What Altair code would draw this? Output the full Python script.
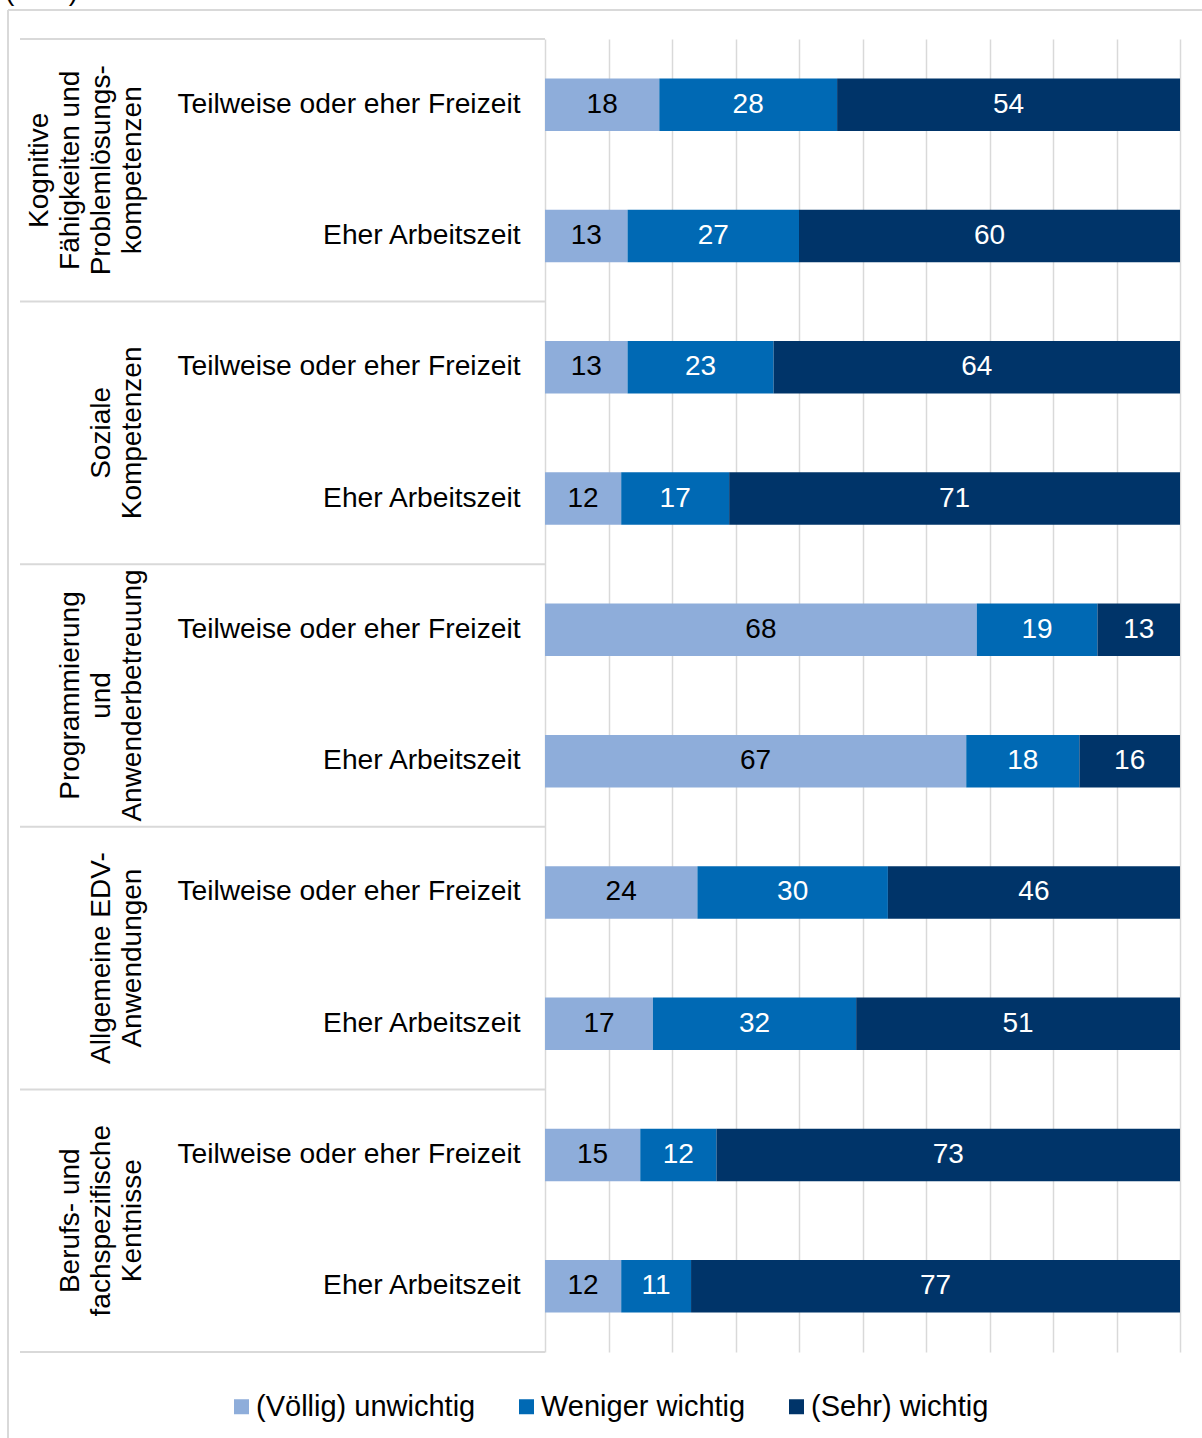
import altair as alt
import pandas as pd

# ---------------- data ----------------
group_lines = [
    ["Kognitive", "Fähigkeiten und", "Problemlösungs-", "kompetenzen"],
    ["Soziale", "Kompetenzen"],
    ["Programmierung", "und", "Anwenderbetreuung"],
    ["Allgemeine EDV-", "Anwendungen"],
    ["Berufs- und", "fachspezifische", "Kentnisse"],
]
periods = ["Teilweise oder eher Freizeit", "Eher Arbeitszeit"]
levels = ["(Völlig) unwichtig", "Weniger wichtig", "(Sehr) wichtig"]
colors = ["#8EADDA", "#0069B4", "#003469"]

unwichtig = [18, 13, 13, 12, 68, 67, 24, 17, 15, 12]
weniger = [28, 27, 23, 17, 19, 18, 30, 32, 12, 11]
wichtig = [54, 60, 64, 71, 13, 16, 46, 51, 73, 77]

x_ticks = list(range(0, 101, 10))
unit_label = "(in %)"

FONT = "Liberation Sans"
LINE_H = 31

rows = []
row_ids = []
for gi in range(len(group_lines)):
    for pi, p in enumerate(periods):
        ri = gi * 2 + pi
        rid = f"{gi}|{p}"
        row_ids.append(rid)
        for li, (lvl, vals) in enumerate(zip(levels, [unwichtig, weniger, wichtig])):
            rows.append({"row": rid, "level": lvl, "lvl": li, "value": vals[ri]})
df = pd.DataFrame(rows)

gdf = pd.DataFrame({"g": list(range(len(group_lines))),
                    "label": ["\n".join(l) for l in group_lines]})
bdf = pd.DataFrame({"b": list(range(len(group_lines) + 1))})
dummy = pd.DataFrame({"k": [0], "t": [unit_label]})

# ---------------- main (bars) ----------------
base = (
    alt.Chart(df)
    .transform_joinaggregate(total="sum(value)", groupby=["row"])
    .transform_window(cum="sum(value)", groupby=["row"],
                      sort=[alt.SortField("lvl", order="ascending")],
                      frame=[None, 0])
    .transform_calculate(
        start="(datum.cum - datum.value) / datum.total * 100",
        end="datum.cum / datum.total * 100",
        mid="(datum.cum - datum.value / 2) / datum.total * 100",
    )
)

y_enc = alt.Y(
    "row:N",
    scale=alt.Scale(domain=row_ids, paddingInner=0.6, paddingOuter=0.3),
    axis=alt.Axis(
        title=None, ticks=False, domain=False, grid=False,
        labelExpr="split(datum.value, '|')[1]",
        labelFontSize=28.2, labelFont=FONT, labelColor="#000000",
        labelPadding=25, labelLimit=800,
    ),
)

x_scale = alt.Scale(domain=[0, 100], nice=False)

bars = base.mark_bar().encode(
    x=alt.X("start:Q", scale=x_scale,
            axis=alt.Axis(values=x_ticks, labels=False, ticks=False, domain=False,
                          grid=True, gridColor="#D9D9D9", gridWidth=1.5, title=None)),
    x2="end:Q",
    y=y_enc,
    color=alt.Color(
        "level:N",
        scale=alt.Scale(domain=levels, range=colors),
        legend=alt.Legend(
            orient="none", legendX=-318, legendY=1353, direction="horizontal",
            title=None, symbolType="square", symbolSize=225, symbolStrokeWidth=0,
            labelFontSize=29, labelFont=FONT, labelColor="#000000", labelLimit=600,
            columnPadding=36, labelOffset=0, padding=0,
        ),
    ),
)

values = base.mark_text(fontSize=28, font=FONT).encode(
    x=alt.X("mid:Q", scale=x_scale),
    y=y_enc,
    text=alt.Text("value:Q"),
    color=alt.condition("datum.lvl == 0", alt.value("#000000"), alt.value("#FFFFFF")),
)

main = alt.layer(bars, values)

# ---------------- side (group separators & labels) ----------------
gy_scale = alt.Scale(domain=[0, len(group_lines)], reverse=True, nice=False, zero=False)

seps = alt.Chart(bdf).mark_rule(color="#D9D9D9", strokeWidth=2).encode(
    y=alt.Y("b:Q", scale=gy_scale, axis=None),
    x=alt.value(-525),
    x2=alt.value(0),
)

# multi-line rotated labels: last line sits next to the category labels
glabels = (
    alt.Chart(gdf)
    .transform_calculate(
        c="datum.g + 0.5",
        xo=f"-398 - (length(split(datum.label, '\\n')) - 1) * {LINE_H}",
    )
    .mark_text(angle=270, align="center", baseline="bottom", lineBreak="\n",
               fontSize=28, font=FONT, lineHeight=LINE_H, color="#000000")
    .encode(
        y=alt.Y("c:Q", scale=gy_scale, axis=None),
        x=alt.X("xo:Q", scale=None),
        text="label:N",
    )
)

top_border = alt.Chart(dummy).mark_rule(color="#D9D9D9", strokeWidth=2).encode(
    x=alt.value(-537), x2=alt.value(660), y=alt.value(-29)
)
left_border = alt.Chart(dummy).mark_rule(color="#D9D9D9", strokeWidth=2).encode(
    x=alt.value(-537), y=alt.value(-29), y2=alt.value(1420)
)
unit = alt.Chart(dummy).mark_text(align="left", baseline="alphabetic", fontSize=28,
                                  font=FONT, color="#000000").encode(
    x=alt.value(-540), y=alt.value(-39), text="t:N"
)

side = alt.layer(seps, glabels, top_border, left_border, unit)

chart = (
    alt.layer(main, side)
    .resolve_scale(y="independent")
    .properties(
        width=635, height=1313,
        autosize=alt.AutoSizeParams(type="none"),
        padding={"left": 545, "top": 39, "right": 22, "bottom": 86},
    )
    .configure(font=FONT)
    .configure_view(strokeWidth=0)
)

chart.save("out.html", embed_options={"renderer": "svg", "actions": False})
